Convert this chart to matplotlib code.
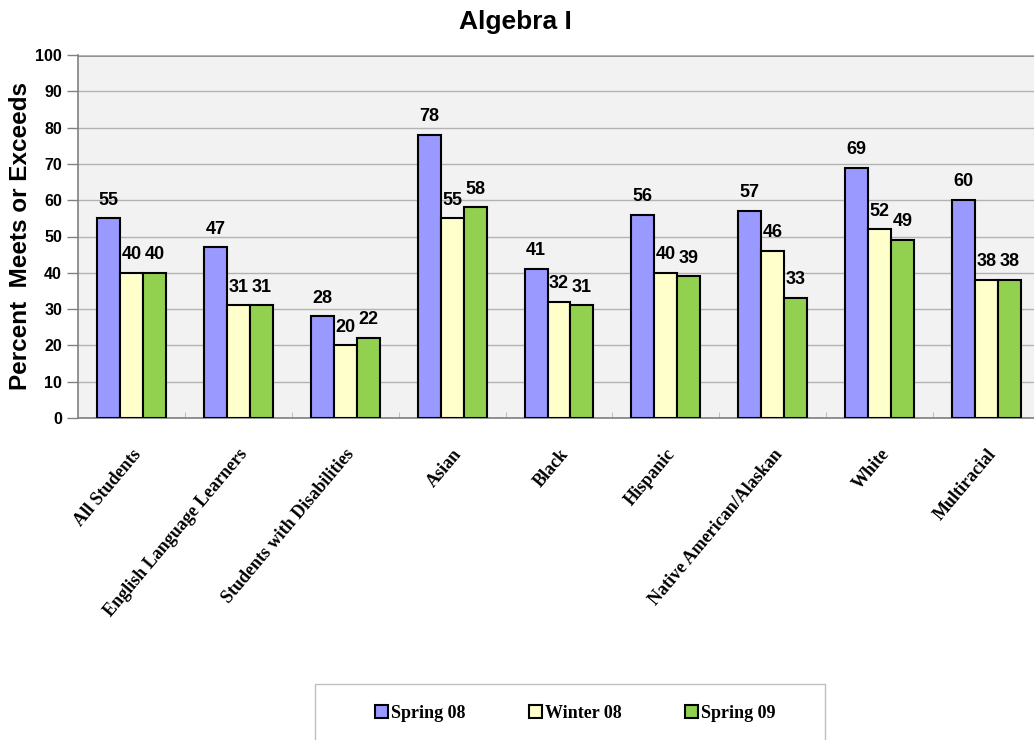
import matplotlib.pyplot as plt
from matplotlib.patches import Rectangle
import numpy as np

# data
categories = ["All Students", "English Language Learners", "Students with Disabilities",
              "Asian", "Black", "Hispanic", "Native American/Alaskan", "White", "Multiracial"]
series_names = ["Spring 08", "Winter 08", "Spring 09"]
spring08 = [55, 47, 28, 78, 41, 56, 57, 69, 60]
winter08 = [40, 31, 20, 55, 32, 40, 46, 52, 38]
spring09 = [40, 31, 22, 58, 31, 39, 33, 49, 38]
colors = ["#9999FF", "#FFFFCC", "#92D050"]

fig = plt.figure(figsize=(10.34, 7.4), dpi=100)
ax = fig.add_axes([78 / 1034, 1 - 418 / 740, 962 / 1034, 363 / 740])
ax.set_facecolor("#F2F2F2")

x = np.arange(len(categories))
w = 0.215
for i, (vals, c) in enumerate(zip([spring08, winter08, spring09], colors)):
    pos = x + (i - 1) * w
    ax.bar(pos, vals, width=w, color=c, edgecolor="black", linewidth=1.5,
           label=series_names[i], zorder=3)
    for p, v in zip(pos, vals):
        ax.annotate(str(v), (p, v), xytext=(0, 7), textcoords="offset points",
                    ha="center", va="bottom", fontsize=13, fontweight="bold",
                    family="Liberation Sans")

ax.set_xlim(-0.5, len(categories) - 0.5)
ax.set_ylim(0, 100)
ax.set_yticks(range(0, 101, 10))
ax.yaxis.grid(True, color="#B3B3B3", linewidth=1, zorder=0)
ax.axhline(100, color="#808080", linewidth=2, zorder=1)

ax.set_xticks(x)
ax.set_xticklabels(categories, rotation=50, ha="right", va="top",
                   rotation_mode="anchor", fontsize=13, fontweight="bold",
                   family="Liberation Serif")
ax.tick_params(axis="x", length=0, pad=20)
ax.set_xticks(np.arange(0.5, len(categories) - 0.5), minor=True)
ax.tick_params(axis="x", which="minor", direction="in", length=4, color="#B3B3B3")
ax.tick_params(axis="y", length=8, color="#808080", width=1)
for lbl in ax.get_yticklabels():
    lbl.set_fontweight("bold")
    lbl.set_family("Liberation Sans")
    lbl.set_fontsize(11.5)

for s in ["top", "right"]:
    ax.spines[s].set_visible(False)
ax.spines["left"].set_color("#808080")
ax.spines["bottom"].set_color("#808080")
ax.spines["left"].set_linewidth(1.2)
ax.spines["bottom"].set_linewidth(1.2)

ax.set_ylabel("Percent  Meets or Exceeds", fontsize=17.5, fontweight="bold",
              family="Liberation Sans")
ax.yaxis.set_label_coords(-46 / 962, 0.5)
fig.text(515 / 1034, 1 - 22 / 740, "Algebra I", ha="center", va="center",
         fontsize=19, fontweight="bold", family="Liberation Sans")

# legend box
fig.patches.append(Rectangle((315 / 1034, -0.03), 510 / 1034, 78 / 740,
                             transform=fig.transFigure, facecolor="white",
                             edgecolor="#BFBFBF", linewidth=1))
handles, labels = ax.get_legend_handles_labels()
leg = fig.legend(handles, labels, loc="center", bbox_to_anchor=(575 / 1034, 1 - 713 / 740),
                 ncol=3, frameon=False, handlelength=0.75, handleheight=0.75,
                 handletextpad=0.15, columnspacing=3.5,
                 prop={"family": "Liberation Serif", "weight": "bold", "size": 13})

fig.savefig("out.png", dpi=100)
